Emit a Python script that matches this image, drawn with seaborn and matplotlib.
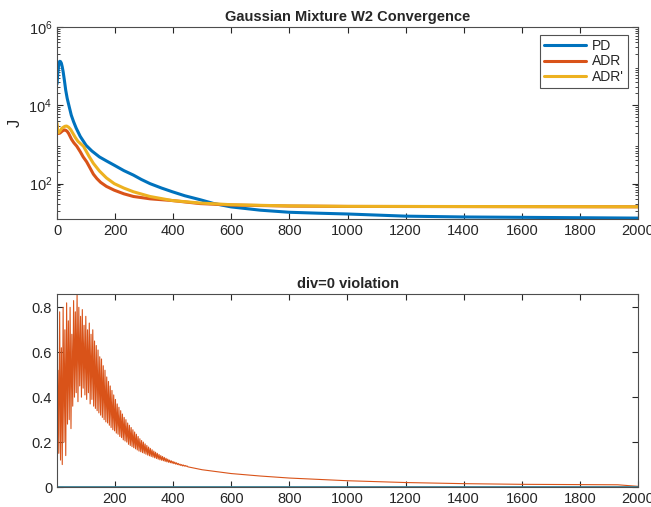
import numpy as np
import pandas as pd
import seaborn as sns
import matplotlib.pyplot as plt
from matplotlib.ticker import LogLocator, NullFormatter, FixedLocator

# ---- top panel: objective J per iteration ----
pd_iter = [0, 3, 6, 9, 12, 15, 18, 21, 25, 30, 35, 40, 49, 57, 66, 80, 100, 120, 146, 170, 197,
           230, 263, 290, 320, 360, 397, 440, 492, 540, 599, 700, 799, 900, 1000, 1200, 1400, 1600, 1800, 2000]
pd_J = [35000, 70000, 110000, 132000, 130000, 118000, 95000, 72000, 45000, 24000, 15000, 10500, 5600, 3800,
        2600, 1600, 950, 680, 480, 380, 295, 215, 165, 128, 100, 77, 62, 49, 39, 31, 25.5, 21, 18.6, 17.6,
        16.8, 14.8, 14.1, 13.8, 13.5, 13.2]

adr_iter = [0, 2, 5, 10, 15, 20, 25, 30, 35, 40, 45, 50, 58, 68, 80, 90, 102, 115, 125, 137, 150,
            170, 197, 230, 263, 320, 397, 492, 599, 799, 1000, 1500, 2000]
adr_J = [3000, 2100, 1900, 1950, 2100, 2250, 2350, 2300, 2150, 1900, 1600, 1350, 1100, 900, 650, 480,
         360, 240, 175, 135, 108, 85, 68, 55, 47, 41, 37, 31, 28.5, 26.8, 26.2, 25.9, 25.6]

adrp_iter = [0, 2, 5, 10, 15, 20, 27, 33, 40, 47, 55, 63, 72, 91, 110, 125, 146, 170, 197, 230, 263,
             320, 397, 492, 599, 799, 1000, 1500, 2000]
adrp_J = [3500, 2200, 2000, 2200, 2500, 2700, 2900, 2950, 2750, 2400, 1900, 1500, 1200, 900, 500, 330,
          210, 140, 100, 77, 62, 47, 37, 32, 29, 27, 26.3, 26, 25.7]

# ---- bottom panel: div=0 violation ----
# ADR oscillates strongly early on: samples every 3 iterations, from iteration 1
adr_div_head = [0.02,
                0.52, 0.15, 0.78, 0.12, 0.62, 0.10, 0.80, 0.20, 0.70, 0.14,
                0.82, 0.28, 0.74, 0.30, 0.80, 0.26, 0.68, 0.36, 0.83, 0.40,
                0.78, 0.42, 0.86, 0.38, 0.80, 0.45, 0.76, 0.40, 0.79, 0.44,
                0.72, 0.41, 0.76, 0.39, 0.70, 0.42, 0.73, 0.37, 0.68, 0.39,
                0.70, 0.36, 0.65, 0.35, 0.63, 0.34, 0.61, 0.33, 0.58, 0.32,
                0.57, 0.31, 0.54, 0.30, 0.52, 0.29, 0.49, 0.285, 0.47, 0.275,
                0.45, 0.265, 0.43, 0.255, 0.41, 0.25, 0.39, 0.24, 0.37, 0.235,
                0.355, 0.225, 0.34, 0.22, 0.325, 0.21, 0.31, 0.205, 0.30, 0.20,
                0.285, 0.19, 0.275, 0.185, 0.265, 0.18, 0.255, 0.175, 0.245, 0.17,
                0.235, 0.165, 0.225, 0.16, 0.215, 0.157, 0.207, 0.153, 0.20, 0.15,
                0.192, 0.146, 0.185, 0.142, 0.178, 0.139, 0.172, 0.136, 0.166, 0.133,
                0.16, 0.13, 0.155, 0.127, 0.15, 0.124, 0.145, 0.121, 0.14, 0.119,
                0.136, 0.117, 0.132, 0.114, 0.128, 0.112, 0.124, 0.11, 0.12, 0.108,
                0.117, 0.106, 0.114, 0.104, 0.111, 0.102, 0.108, 0.1, 0.105, 0.098,
                0.102, 0.096, 0.1, 0.094, 0.098, 0.093, 0.096, 0.092, 0.094, 0.09]
adr_div_tail_iter = [500, 600, 700, 800, 900, 1000, 1200, 1400, 1600, 1800, 1930, 2000]
adr_div_tail = [0.077, 0.06, 0.049, 0.04, 0.034, 0.028, 0.02, 0.015, 0.012, 0.011, 0.01, 0.003]

pd_div_iter = [1, 2, 2000]
pd_div = [0.71, 0.0, 0.0]
adrp_div_iter = [1, 2, 2000]
adrp_div = [0.07, 0.0, 0.0]

colors = {'PD': '#0072BD', 'ADR': '#D95319', "ADR'": '#EDB120'}

sns.set_style('ticks')
plt.rcParams['font.family'] = ['Liberation Sans', 'DejaVu Sans']
plt.rcParams['axes.edgecolor'] = '#262626'
plt.rcParams['xtick.color'] = '#262626'
plt.rcParams['ytick.color'] = '#262626'

top = pd.concat([
    pd.DataFrame({'iter': pd_iter, 'J': pd_J, 'method': 'PD'}),
    pd.DataFrame({'iter': adr_iter, 'J': adr_J, 'method': 'ADR'}),
    pd.DataFrame({'iter': adrp_iter, 'J': adrp_J, 'method': "ADR'"}),
])

head_iter = list(range(1, 1 + 3 * len(adr_div_head), 3))
adr_div_df = pd.DataFrame({'iter': head_iter + adr_div_tail_iter,
                           'v': adr_div_head + adr_div_tail})

fig = plt.figure(figsize=(6.51, 5.07), dpi=100)
ax1 = fig.add_axes([0.0876, 0.568, 0.8925, 0.379])
ax2 = fig.add_axes([0.0876, 0.0394, 0.8925, 0.381])

sns.lineplot(data=top, x='iter', y='J', hue='method', palette=colors,
             linewidth=2.2, ax=ax1, sort=False, estimator=None)
ax1.set_yscale('log')
ax1.set_xlim(0, 2000)
ax1.set_ylim(12.5, 1e6)
ax1.set_xticks(range(0, 2001, 200))
ax1.yaxis.set_major_locator(FixedLocator([1e2, 1e4, 1e6]))
ax1.yaxis.set_minor_locator(LogLocator(base=10, subs=np.arange(2, 10), numticks=20))
ax1.yaxis.set_minor_formatter(NullFormatter())
ax1.set_xlabel('')
ax1.set_ylabel('J', fontsize=12)
ax1.set_title('Gaussian Mixture W2 Convergence', fontsize=10.5, fontweight='bold', pad=4)
leg = ax1.legend(loc='upper right', fontsize=10, frameon=True, fancybox=False,
                 handlelength=3.0, borderpad=0.3, labelspacing=0.1, handletextpad=0.4,
                 bbox_to_anchor=(1.0, 1.0125), borderaxespad=0.75)
leg.get_frame().set_edgecolor('#262626')
leg.get_frame().set_linewidth(0.8)

sns.lineplot(data=adr_div_df, x='iter', y='v', color=colors['ADR'], linewidth=0.8,
             ax=ax2, sort=False, estimator=None)
sns.lineplot(x=adrp_div_iter, y=adrp_div, color=colors["ADR'"], linewidth=1.0, ax=ax2)
sns.lineplot(x=pd_div_iter, y=pd_div, color=colors['PD'], linewidth=1.0, ax=ax2)
ax2.set_xlim(1, 2000)
ax2.set_ylim(0, 0.86)
ax2.set_xticks(range(200, 2001, 200))
ax2.set_yticks([0, 0.2, 0.4, 0.6, 0.8])
ax2.set_yticklabels(['0', '0.2', '0.4', '0.6', '0.8'])
ax2.set_xlabel('')
ax2.set_ylabel('')
ax2.set_title('div=0 violation', fontsize=10.5, fontweight='bold', pad=4)

for ax in (ax1, ax2):
    for s in ax.spines.values():
        s.set_visible(True)
        s.set_linewidth(0.8)
        s.set_color('#4d4d4d')
    ax.tick_params(which='both', direction='in', top=True, right=True, labelsize=10.5)
    ax.tick_params(which='major', length=4)
    ax.tick_params(which='minor', length=2)

fig.savefig('out.png', dpi=100)
